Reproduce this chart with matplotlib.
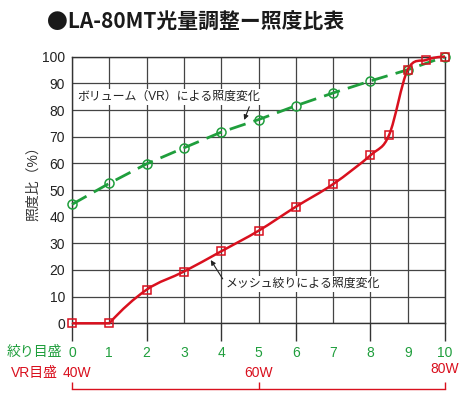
import matplotlib
matplotlib.use("Agg")
import matplotlib.pyplot as plt
from matplotlib.path import Path
from matplotlib.patches import PathPatch
import numpy as np

plt.rcParams['font.family'] = ['Liberation Sans', 'Noto Sans CJK JP']

# ---- data ----
title = "●LA-80MT光量調整ー照度比表"
ylabel = "照度比（%）"
x_label_row = "絞り目盛"
vr_label_row = "VR目盛"
x_ticks = [0, 1, 2, 3, 4, 5, 6, 7, 8, 9, 10]
y_ticks = [0, 10, 20, 30, 40, 50, 60, 70, 80, 90, 100]
vr_ticks = [0, 5, 10]
vr_labels = ["40W", "60W", "80W"]

vr_x = [0, 1, 2, 3, 4, 5, 6, 7, 8, 9, 10]
vr_y = [44.6, 52.5, 59.8, 65.8, 71.7, 76.4, 81.6, 86.4, 90.9, 95.1, 100]

mesh_x = [0, 1, 2, 3, 4, 5, 6, 7, 8, 8.5, 9, 9.5, 10]
mesh_y = [0, 0, 12.6, 19.4, 27.0, 34.7, 43.7, 52.2, 63.0, 70.6, 95.1, 98.8, 100]

vr_note = "ボリューム（VR）による照度変化"
mesh_note = "メッシュ絞りによる照度変化"

GREEN = "#1f9e3c"
RED = "#d9101e"
DARK = "#222222"

fig = plt.figure(figsize=(4.65, 3.99), dpi=100)
ax = fig.add_axes([72/465, 1-323.3/399, (445-72)/465, (323.3-56.7)/399])
ax.set_xlim(0, 10)
ax.set_ylim(0, 100)
ax.set_xticks(x_ticks)
ax.set_yticks(y_ticks)
ax.grid(True, color="#444444", lw=0.9, zorder=0)
for s in ax.spines.values():
    s.set_color("#333333")
    s.set_linewidth(1.0)
ax.tick_params(axis='both', length=0)
ax.tick_params(axis='y', pad=5, labelsize=10, labelcolor=DARK)
ax.tick_params(axis='x', pad=16, labelsize=10, labelcolor=GREEN)

# extended even ticks below axis
xt = ax.get_xaxis_transform()
ax.vlines([0, 2, 4, 6, 8, 10], -0.066, 0, transform=xt, colors="#333333",
          lw=1.0, clip_on=False)

# green VR series
ax.plot(vr_x, vr_y, color=GREEN, lw=2.0, dashes=(6, 3), zorder=3,
        clip_on=False)
ax.plot(vr_x, vr_y, ls='none', marker='o', ms=6.5, mfc='none', mec=GREEN,
        mew=1.1, zorder=4, clip_on=False)

# red mesh series: smooth curve through points
P = np.column_stack([mesh_x, mesh_y]).astype(float)
verts = [tuple(P[0]), tuple(P[1])]
codes = [Path.MOVETO, Path.LINETO]
Q = P[1:]
n = len(Q)
T = np.zeros_like(Q)
T[0] = 2*(Q[1]-Q[0]) - (Q[2]-Q[0])/2
for i in range(1, n-1):
    T[i] = (Q[i+1]-Q[i-1])/2
T[-1] = 2*(Q[-1]-Q[-2]) - (Q[-1]-Q[-3])/2
for i in range(n-1):
    c1 = Q[i] + T[i]/3
    c2 = Q[i+1] - T[i+1]/3
    verts += [tuple(c1), tuple(c2), tuple(Q[i+1])]
    codes += [Path.CURVE4]*3
patch = PathPatch(Path(verts, codes), fc='none', ec=RED, lw=1.8, zorder=3,
                  clip_on=False)
ax.add_patch(patch)
ax.plot(mesh_x, mesh_y, ls='none', marker='s', ms=6, mfc='none', mec=RED,
        mew=1.1, zorder=4, clip_on=False)

# annotations
ax.text(0.13, 85, vr_note, fontsize=8.6, color=DARK, ha='left', va='center',
        bbox=dict(fc='white', ec='none', pad=1.5), zorder=5)
ax.annotate('', xy=(4.59, 75.3), xytext=(4.78, 82.2),
            arrowprops=dict(arrowstyle='-|>', color=DARK, lw=0.8,
                            mutation_scale=7), zorder=5)
ax.text(4.13, 14.8, mesh_note, fontsize=8.6, color=DARK, ha='left',
        va='center', bbox=dict(fc='white', ec='none', pad=1.5), zorder=5)
ax.annotate('', xy=(3.68, 24.6), xytext=(4.08, 15.8),
            arrowprops=dict(arrowstyle='-|>', color=DARK, lw=0.8,
                            mutation_scale=7), zorder=5)

# VR scale below
vr_y_pos = [-0.188, -0.185, -0.170]
for xv, lab, yp in zip(vr_ticks, vr_labels, vr_y_pos):
    ax.text(xv + (0.12 if xv == 0 else 0), yp, lab, transform=xt, color=RED,
            fontsize=10, ha='center', va='center', clip_on=False)
ax.plot([vr_ticks[0], vr_ticks[-1]], [-0.246, -0.246], transform=xt,
        color=RED, lw=1.0, clip_on=False)
ax.vlines(vr_ticks, -0.246, -0.220, transform=xt, colors=RED, lw=1.0,
          clip_on=False)

fig.text(62/465, 1-352/399, x_label_row, color=GREEN, fontsize=10,
         ha='right', va='center')
fig.text(58/465, 1-373/399, vr_label_row, color=RED, fontsize=10,
         ha='right', va='center')
fig.text(33/465, 1-180/399, ylabel, color="#333333", fontsize=10,
         rotation=90, ha='center', va='center')
fig.text(47/465, 1-22/399, title, color="#1a1a1a", fontsize=15,
         fontweight='bold', ha='left', va='center',
         family=['Noto Sans CJK JP', 'DejaVu Sans'])

fig.savefig("out.png", dpi=100)
